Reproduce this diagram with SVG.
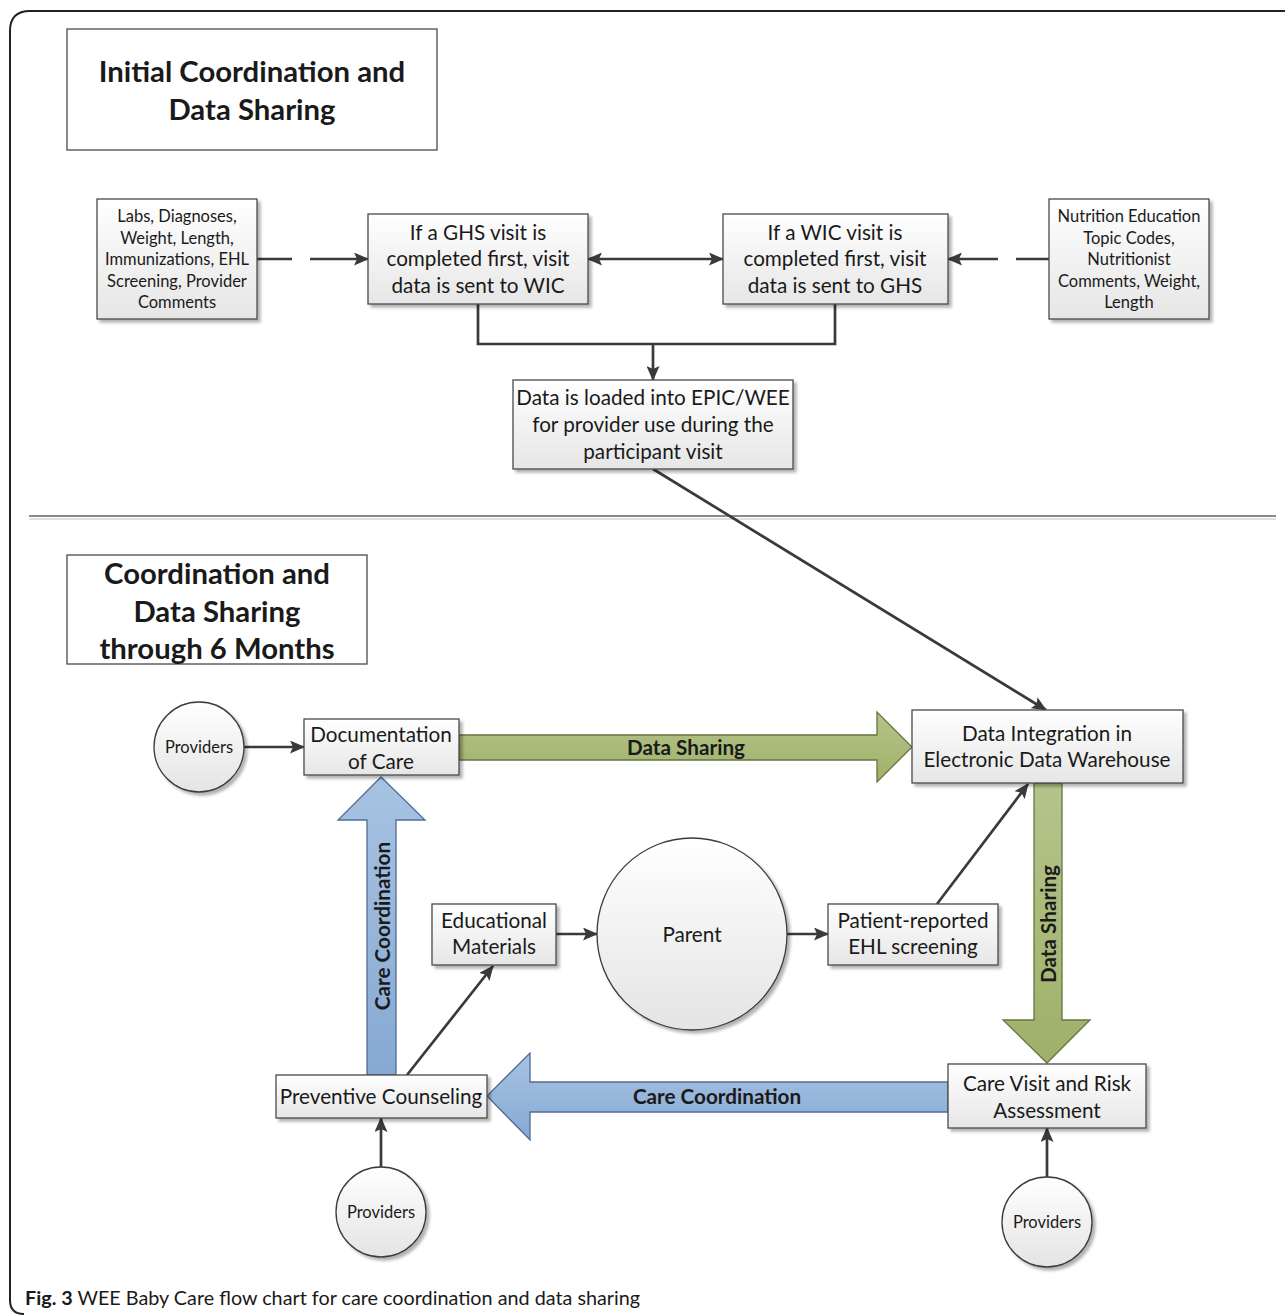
<svg xmlns="http://www.w3.org/2000/svg" width="1285" height="1316" viewBox="0 0 1285 1316">
<style>
text{font-family:Lato,"Liberation Sans",sans-serif;fill:#1a1a1a;text-anchor:middle;dominant-baseline:central}
.box{fill:url(#gbox);stroke:#4a4a4a;stroke-width:1.3;filter:url(#sh)}
.title{fill:#fff;stroke:#4a4a4a;stroke-width:1.3}
.t1{font-size:29.3px;font-weight:bold}
.sm{font-size:16.5px}
.pv{font-size:16.5px}
.md{font-size:20.7px}
.ln{stroke:#3a3a3a;stroke-width:2.7;fill:none}
.arr{marker-end:url(#ah)}
.green{fill:url(#ggreen);stroke:#66743f;stroke-width:1.3}
.blue{fill:url(#gblue);stroke:#4d6d93;stroke-width:1.3}
.lbl{font-size:20.7px;font-weight:bold}
</style>
<defs>
<linearGradient id="gbox" x1="0" y1="0" x2="0" y2="1"><stop offset="0" stop-color="#ffffff"/><stop offset="1" stop-color="#e6e6e6"/></linearGradient>
<linearGradient id="gcirc" x1="0" y1="0" x2="0" y2="1"><stop offset="0" stop-color="#ffffff"/><stop offset="1" stop-color="#e4e4e4"/></linearGradient>
<linearGradient id="ggreen" x1="0" y1="0" x2="0" y2="1"><stop offset="0" stop-color="#b5c48a"/><stop offset="1" stop-color="#9fb06a"/></linearGradient>
<linearGradient id="gblue" x1="0" y1="0" x2="0" y2="1"><stop offset="0" stop-color="#a7c3e3"/><stop offset="1" stop-color="#86a9d2"/></linearGradient>
<filter id="sh" x="-10%" y="-10%" width="130%" height="130%"><feDropShadow dx="3" dy="3" stdDeviation="1.5" flood-color="#000" flood-opacity="0.3"/></filter>
<marker id="ah" markerWidth="15" markerHeight="13" refX="14" refY="6.5" orient="auto-start-reverse" markerUnits="userSpaceOnUse"><path d="M0,0 L15,6.5 L0,13 L3,6.5 z" fill="#3a3a3a"/></marker>
</defs>
<rect width="1285" height="1316" fill="#fff"/>
<path d="M1285,11 H30 Q10,11 10,31 V1300 Q10,1314 24,1314" fill="none" stroke="#222" stroke-width="2"/>
<line x1="29" y1="516" x2="1276" y2="516" stroke="#8a8a8a" stroke-width="2"/>
<line x1="29" y1="519" x2="1276" y2="519" stroke="#e0e0e0" stroke-width="2"/>

<g id="title1"><rect class="title" x="67" y="29" width="370" height="121"/><text class="t1" x="252" y="70">Initial Coordination and</text><text class="t1" x="252" y="108">Data Sharing</text></g>
<g id="title2"><rect class="title" x="67" y="555" width="300" height="109"/><text class="t1" x="217" y="572">Coordination and</text><text class="t1" x="217" y="610">Data Sharing</text><text class="t1" x="217" y="647">through 6 Months</text></g>

<g id="connectors">
<line class="ln" x1="257" y1="259" x2="292" y2="259"/>
<line class="ln arr" x1="310" y1="259" x2="368" y2="259"/>
<line class="ln arr" x1="588" y1="259" x2="723" y2="259" style="marker-start:url(#ah)"/>
<line class="ln" x1="1049" y1="259" x2="1016" y2="259"/>
<line class="ln arr" x1="998" y1="259" x2="948" y2="259"/>
<polyline class="ln" points="478,304 478,344 835,344 835,304"/>
<line class="ln arr" x1="653" y1="344" x2="653" y2="380"/>
<line class="ln arr" x1="653" y1="469" x2="1046" y2="710"/>
<line class="ln arr" x1="244" y1="747" x2="304" y2="747"/>
<line class="ln arr" x1="556" y1="934" x2="597" y2="934"/>
<line class="ln arr" x1="787" y1="934" x2="828" y2="934"/>
<line class="ln arr" x1="937" y1="904" x2="1028" y2="784"/>
<line class="ln arr" x1="407" y1="1075" x2="493" y2="966"/>
<line class="ln arr" x1="381" y1="1167" x2="381" y2="1118"/>
<line class="ln arr" x1="1047" y1="1177" x2="1047" y2="1128"/>
<path class="green" d="M459,735 H877 V712 L912,747 L877,782 V760 H459 Z"/>
<text class="lbl" x="686" y="747">Data Sharing</text>
<path class="green" d="M1034,783 V1020 H1003 L1047,1063 L1090,1020 H1062 V783 Z"/>
<text class="lbl" x="1048" y="924" transform="rotate(-90 1048 924)">Data Sharing</text>
<path class="blue" d="M948,1082 H530 V1053 L487,1096 L530,1140 V1112 H948 Z"/>
<text class="lbl" x="717" y="1096">Care Coordination</text>
<path class="blue" d="M367,1075 V820 H338 L381,777 L425,820 H396 V1075 Z"/>
<text class="lbl" x="382" y="926" transform="rotate(-90 382 926)">Care Coordination</text>
</g>

<g id="labs"><rect class="box" x="97" y="199" width="160" height="120"/><text class="sm" x="177" y="216">Labs, Diagnoses,</text><text class="sm" x="177" y="238">Weight, Length,</text><text class="sm" x="177" y="259">Immunizations,  EHL</text><text class="sm" x="177" y="281">Screening, Provider</text><text class="sm" x="177" y="302">Comments</text></g>
<g id="ghs"><rect class="box" x="368" y="214" width="220" height="90"/><text class="md" x="478" y="232">If a GHS visit is</text><text class="md" x="478" y="258">completed first, visit</text><text class="md" x="478" y="285">data is sent to WIC</text></g>
<g id="wic"><rect class="box" x="723" y="214" width="225" height="90"/><text class="md" x="835" y="232">If a WIC visit is</text><text class="md" x="835" y="258">completed first, visit</text><text class="md" x="835" y="285">data is sent to GHS</text></g>
<g id="nutrition"><rect class="box" x="1049" y="199" width="160" height="120"/><text class="sm" x="1129" y="216">Nutrition Education</text><text class="sm" x="1129" y="238">Topic Codes,</text><text class="sm" x="1129" y="259">Nutritionist</text><text class="sm" x="1129" y="281">Comments, Weight,</text><text class="sm" x="1129" y="302">Length</text></g>
<g id="epic"><rect class="box" x="513" y="380" width="280" height="89"/><text class="md" x="653" y="397">Data is loaded into EPIC/WEE</text><text class="md" x="653" y="424">for provider use during the</text><text class="md" x="653" y="451">participant visit</text></g>

<g id="providers1"><circle cx="199" cy="747" r="45" fill="url(#gcirc)" stroke="#3a3a3a" stroke-width="1.3" filter="url(#sh)"/><text class="pv" x="199" y="747">Providers</text></g>
<g id="documentation"><rect class="box" x="304" y="719" width="155" height="56"/><text class="md" x="381" y="734">Documentation</text><text class="md" x="381" y="761">of Care</text></g>
<g id="integration"><rect class="box" x="912" y="710" width="271" height="73"/><text class="md" x="1047" y="733">Data Integration in</text><text class="md" x="1047" y="759">Electronic Data Warehouse</text></g>
<g id="educational"><rect class="box" x="432" y="904" width="124" height="61"/><text class="md" x="494" y="920">Educational</text><text class="md" x="494" y="946">Materials</text></g>
<g id="parent"><ellipse cx="692" cy="934" rx="95" ry="96" fill="url(#gcirc)" stroke="#3a3a3a" stroke-width="1.3" filter="url(#sh)"/><text class="md" x="692" y="934">Parent</text></g>
<g id="patient"><rect class="box" x="828" y="904" width="170" height="61"/><text class="md" x="913" y="920">Patient-reported</text><text class="md" x="913" y="946">EHL screening</text></g>
<g id="carevisit"><rect class="box" x="948" y="1064" width="198" height="64"/><text class="md" x="1047" y="1083">Care Visit and Risk</text><text class="md" x="1047" y="1110">Assessment</text></g>
<g id="preventive"><rect class="box" x="276" y="1075" width="211" height="43"/><text class="md" x="381" y="1096">Preventive Counseling</text></g>
<g id="providers2"><ellipse cx="381" cy="1212" rx="45" ry="45" fill="url(#gcirc)" stroke="#3a3a3a" stroke-width="1.3" filter="url(#sh)"/><text class="pv" x="381" y="1212">Providers</text></g>
<g id="providers3"><ellipse cx="1047" cy="1222" rx="45" ry="45" fill="url(#gcirc)" stroke="#3a3a3a" stroke-width="1.3" filter="url(#sh)"/><text class="pv" x="1047" y="1222">Providers</text></g>

<text x="25" y="1297" style="text-anchor:start;font-size:19.8px"><tspan font-weight="bold">Fig. 3</tspan> WEE Baby Care flow chart for care coordination and data sharing</text>
</svg>
